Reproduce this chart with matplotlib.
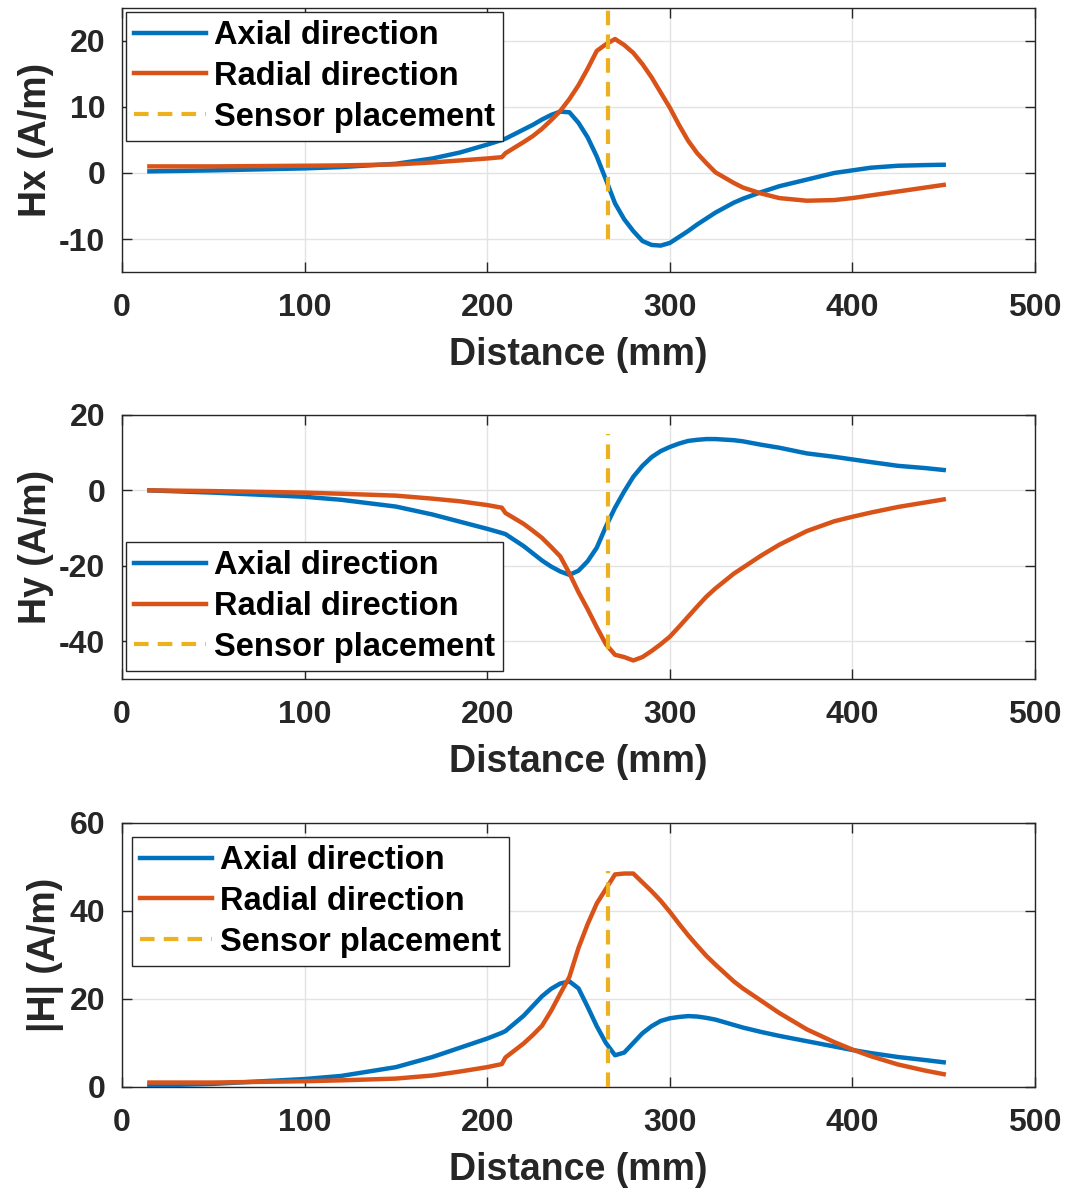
import matplotlib
matplotlib.use("Agg")
import matplotlib.pyplot as plt

plt.rcParams['font.family'] = ['Liberation Sans', 'DejaVu Sans']
plt.rcParams['font.weight'] = 'bold'
plt.rcParams['axes.unicode_minus'] = False

# distance along the pipe (mm)
distance = [15, 50, 100, 120, 150, 170, 185, 200, 208, 210,
            220, 225, 230, 235, 240, 245, 250, 255, 260, 265,
            270, 275, 280, 285, 290, 295, 300, 305, 310, 315,
            320, 325, 335, 340, 350, 360, 375, 390, 400, 410,
            425, 440, 450]

hx_axial = [0.25, 0.4, 0.7, 0.9, 1.4, 2.2, 3.1, 4.3, 5.0, 5.2,
            6.6, 7.3, 8.1, 8.8, 9.3, 9.2, 7.6, 5.4, 2.5, -1.0,
            -4.6, -7.0, -8.8, -10.3, -10.9, -11.0, -10.6, -9.7, -8.8, -7.8,
            -6.9, -6.0, -4.5, -3.9, -2.9, -2.0, -1.0, 0.0, 0.4, 0.8,
            1.1, 1.2, 1.25]
hx_radial = [1.0, 1.0, 1.1, 1.15, 1.3, 1.6, 1.9, 2.2, 2.4, 3.0,
             4.7, 5.6, 6.7, 8.0, 9.4, 11.2, 13.3, 15.8, 18.5, 19.5,
             20.3, 19.4, 18.2, 16.5, 14.5, 12.2, 9.9, 7.3, 4.9, 3.0,
             1.5, 0.1, -1.5, -2.2, -3.1, -3.8, -4.2, -4.1, -3.8, -3.4,
             -2.8, -2.2, -1.8]

hy_axial = [0, -0.6, -1.7, -2.5, -4.3, -6.4, -8.3, -10.2, -11.3, -11.6,
            -14.8, -16.7, -18.6, -20.2, -21.5, -22.4, -21.3, -18.8, -15.2, -9.6,
            -4.6, -0.3, 3.6, 6.5, 8.8, 10.4, 11.5, 12.4, 13.1, 13.4,
            13.6, 13.6, 13.3, 13.0, 12.1, 11.3, 9.8, 8.9, 8.2, 7.5,
            6.5, 5.9, 5.4]
hy_radial = [0, -0.2, -0.6, -0.9, -1.4, -2.2, -2.9, -3.9, -4.6, -6.0,
             -8.9, -10.7, -12.6, -15.0, -17.5, -22.0, -27.0, -31.5, -36.3, -40.8,
             -43.6, -44.2, -45.1, -44.2, -42.6, -40.8, -38.8, -36.2, -33.5, -30.8,
             -28.2, -26.0, -22.1, -20.5, -17.3, -14.4, -10.8, -8.2, -7.0, -5.9,
             -4.4, -3.2, -2.4]

h_axial = [0.3, 0.7, 1.8, 2.5, 4.5, 6.8, 8.9, 11.0, 12.3, 12.7,
           16.2, 18.4, 20.6, 22.3, 23.5, 24.0, 22.4, 18.2, 13.8, 10.0,
           7.2, 7.8, 10.0, 12.2, 13.8, 15.0, 15.6, 15.9, 16.1, 16.0,
           15.7, 15.3, 14.1, 13.5, 12.5, 11.6, 10.4, 9.2, 8.4, 7.7,
           6.8, 6.1, 5.6]
h_radial = [1.0, 1.0, 1.3, 1.5, 1.9, 2.6, 3.5, 4.5, 5.2, 6.7,
            9.9, 11.8, 13.9, 17.3, 21.2, 25.0, 31.6, 37.0, 41.7, 45.0,
            48.3, 48.5, 48.5, 46.5, 44.5, 42.3, 39.8, 37.1, 34.5, 32.1,
            29.8, 27.8, 24.0, 22.4, 19.6, 16.8, 13.1, 10.2, 8.5, 7.0,
            5.1, 3.7, 2.9]

sensor_x = 266
sensor_spans = [(-10, 25), (-42, 15), (0, 49)]

ylabels = ["Hx (A/m)", "Hy (A/m)", "|H| (A/m)"]
ylims = [(-15, 25), (-50, 20), (0, 60)]
yticks = [[-10, 0, 10, 20], [-40, -20, 0, 20], [0, 20, 40, 60]]
legend_locs = [("upper left", (0.0044, 0.985)), ("lower left", (0.0044, 0.03)), ("upper left", (0.011, 0.947))]

blue = "#0072BD"
orange = "#D95319"
yellow = "#EDB120"
dark = "#262626"

fig = plt.figure(figsize=(10.73, 11.93), dpi=100)
bottoms = [0.772, 0.4309, 0.0889]
series = [(hx_axial, hx_radial), (hy_axial, hy_radial), (h_axial, h_radial)]

for i in range(3):
    ax = fig.add_axes([0.1137, bottoms[i], 0.8509, 0.2213])
    ax.plot(distance, series[i][0], color=blue, lw=3.2, label="Axial direction", zorder=3)
    ax.plot(distance, series[i][1], color=orange, lw=3.2, label="Radial direction", zorder=3)
    ax.plot([sensor_x, sensor_x], sensor_spans[i], color=yellow, lw=3, ls=(0, (3.5, 2.2)),
            label="Sensor placement", zorder=4)
    ax.set_xlim(0, 500)
    ax.set_ylim(*ylims[i])
    ax.set_xticks([0, 100, 200, 300, 400, 500])
    ax.set_yticks(yticks[i])
    ax.grid(True, color="#e3e3e3", lw=1)
    ax.set_axisbelow(True)
    ax.tick_params(direction="in", length=7, width=1, top=True, right=True,
                   labelsize=23, colors=dark)
    ax.tick_params(axis="x", pad=15)
    ax.tick_params(axis="y", pad=12)
    for t in ax.get_xticklabels() + ax.get_yticklabels():
        t.set_fontweight("bold")
    for s in ax.spines.values():
        s.set_color(dark)
        s.set_linewidth(1)
    ax.set_xlabel("Distance (mm)", fontsize=27, fontweight="bold", color=dark, labelpad=10)
    ax.set_ylabel(ylabels[i], fontsize=27, fontweight="bold", color=dark, labelpad=4)
    loc, anchor = legend_locs[i]
    leg = ax.legend(loc=loc, bbox_to_anchor=anchor, borderaxespad=0, fontsize=23.5,
                    handlelength=2.2, handletextpad=0.25, labelspacing=0.3, borderpad=0.25,
                    fancybox=False, framealpha=1, edgecolor=dark)
    leg.get_frame().set_linewidth(1)
    for t in leg.get_texts():
        t.set_fontweight("bold")

fig.savefig("out.png", dpi=100)
